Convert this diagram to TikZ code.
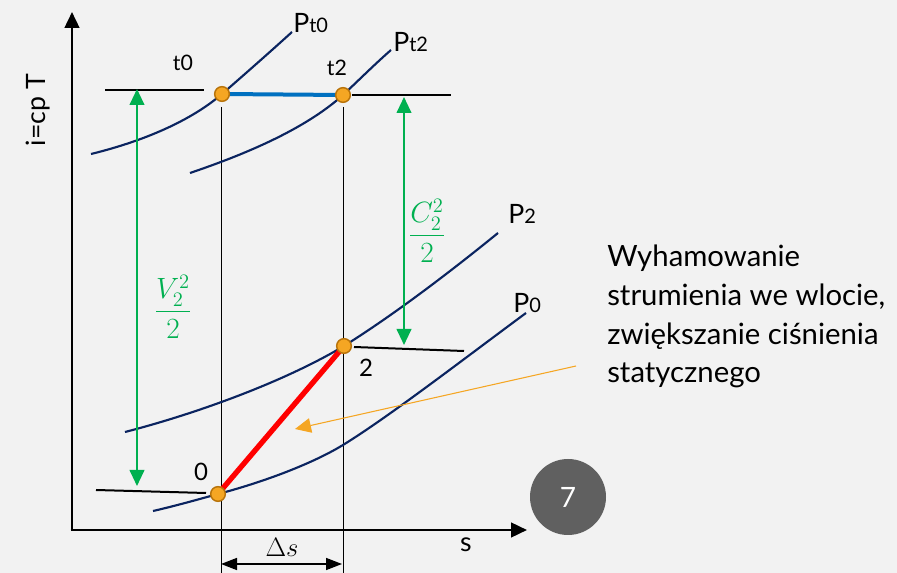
\RequirePackage{fix-cm}
\documentclass[tikz,border=0pt]{standalone}
\usepackage{fontspec}
\setmainfont{Lato}
\usetikzlibrary{arrows.meta}
\definecolor{bg}{HTML}{F2F2F2}
\definecolor{navy}{HTML}{0B2460}
\definecolor{grn}{HTML}{00B050}
\definecolor{blu}{HTML}{0070C0}
\definecolor{org}{HTML}{F5A623}
\definecolor{orgd}{HTML}{B8730A}
\definecolor{circ}{HTML}{606060}
\begin{document}
\begin{tikzpicture}[x=0.75pt,y=-0.75pt,
  curve/.style={navy,line width=1.6pt},
  axis/.style={black,line width=1.9pt,-{Triangle[width=11pt,length=12pt]}},
  level/.style={black,line width=1.5pt},
  thin/.style={black,line width=0.7pt},
  greenarr/.style={grn,line width=1.5pt,{Triangle[width=11pt,length=12pt]}-{Triangle[width=11pt,length=12pt]}},
  dot/.style={circle,fill=org,draw=orgd,line width=1.1pt,minimum size=11pt,inner sep=0pt},
  lbl/.style={inner sep=0pt,font=\fontsize{18}{20}\selectfont},
  plbl/.style={inner sep=0pt,anchor=base west,font=\fontsize{20}{22}\selectfont},
  frac/.style={inner sep=0pt,text=grn,font=\fontsize{22}{26}\selectfont}
]
\fill[bg] (0,0) rectangle (897,573);
\useasboundingbox (0,0) rectangle (897,573);

% positions
\coordinate (T0) at (222,94);
\coordinate (T2) at (343,95);
\coordinate (S2) at (344,346);
\coordinate (S0) at (218,494);
\coordinate (O) at (72,530);
\coordinate (Ytip) at (72,12);
\coordinate (Xtip) at (527,530);

% axes
\draw[axis] (O) -- (Ytip);
\draw[axis] ([xshift=-1pt]O) -- (Xtip);

% thin verticals
\coordinate (v1a) at (221,107); \coordinate (v1b) at (221,573);
\coordinate (v2a) at (343,107); \coordinate (v2b) at (343,573);
\draw[thin] (v1a) -- (v1b);
\draw[thin] (v2a) -- (v2b);

% isobars
\draw[curve] (91,154) .. controls (136,143) and (187,124) .. (T0)
                      .. controls (245,74) and (270,52) .. (292,32);
\draw[curve] (190,173) .. controls (240,156) and (303,131) .. (T2)
                       .. controls (360,79) and (375,64) .. (391,50);
\draw[curve] (125,432) .. controls (195,414) and (284,382) .. (S2)
                       .. controls (395,314) and (450,272) .. (498,233);
\draw[curve] (153,511) .. controls (175,506) and (196,500) .. (S0)
                       .. controls (260,483) and (310,465) .. (343,445)
                       .. controls (390,416) and (465,358) .. (526,313);

% level lines
\coordinate (l0a) at (105,90); \coordinate (l0b) at (204,90);
\coordinate (l2a) at (352,95); \coordinate (l2b) at (451,95);
\coordinate (l3a) at (354,347); \coordinate (l3b) at (464,351);
\coordinate (l4a) at (96,490); \coordinate (l4b) at (206,493);
\draw[level] (l0a) -- (l0b);
\draw[level] (l2a) -- (l2b);
\draw[level] (l3a) -- (l3b);
\draw[level] (l4a) -- (l4b);

% process lines
\draw[blu,line width=3pt] (T0) -- (T2);
\draw[red,line width=4pt] (S0) -- (S2);

% dots
\node[dot] (t0) at (T0) {};
\node[dot] (t2) at (T2) {};
\node[dot] (p2) at (S2) {};
\node[dot] (p0) at (S0) {};

% green arrows
\coordinate (va) at (137,89); \coordinate (vb) at (137,486);
\coordinate (ca) at (404,97); \coordinate (cb) at (404,345);
\draw[greenarr] (va) -- (vb);
\draw[greenarr] (ca) -- (cb);
\node[frac] (vlab) at (173,307) {$\displaystyle\frac{V_2^2}{2}$};
\node[frac] (clab) at (427,231) {$\displaystyle\frac{C_2^2}{2}$};

% orange arrow
\coordinate (oa) at (576,366); \coordinate (ob) at (295,429);
\draw[org,line width=0.8pt,-{Triangle[width=11pt,length=12pt]}] (oa) -- (ob);

% delta s
\coordinate (da) at (221,564); \coordinate (db) at (342,564);
\draw[black,line width=1.2pt,{Triangle[width=9pt,length=12pt]}-{Triangle[width=9pt,length=12pt]}] (da) -- (db);
\node[lbl,font=\fontsize{20}{22}\selectfont] (ds) at (282,547) {$\Delta s$};

% labels
\node[plbl] (pt0) at (293,33) {P\fontsize{15}{16}\selectfont t0};
\node[plbl] (pt2) at (393,52) {P\fontsize{15}{16}\selectfont t2};
\node[plbl] (pp2) at (508,224) {P\fontsize{15}{16}\selectfont 2};
\node[plbl] (pp0) at (513,313) {P\fontsize{15}{16}\selectfont 0};
\node[lbl,font=\fontsize{16}{18}\selectfont] (lt0) at (183,63) {t0};
\node[lbl,font=\fontsize{16}{18}\selectfont] (lt2) at (337,68) {t2};
\node[lbl] (l2) at (366,368) {2};
\node[lbl] (l0) at (201,472) {0};
\node[lbl,font=\fontsize{20}{22}\selectfont] (ls) at (466,545) {s};
\node[lbl,font=\fontsize{20}{22}\selectfont,rotate=90] (ly) at (38,110) {i=cp T};

\node[inner sep=0pt,anchor=north west,align=left,font=\fontsize{22}{29}\selectfont] (txt) at (607,245)
  {Wyhamowanie\\strumienia we wlocie,\\zwiększanie ciśnienia\\statycznego};

\node[circle,fill=circ,minimum size=57pt,inner sep=0pt,text=white,font=\fontsize{21}{22}\selectfont] (seven) at (568,497) {7};
\end{tikzpicture}
\end{document}
